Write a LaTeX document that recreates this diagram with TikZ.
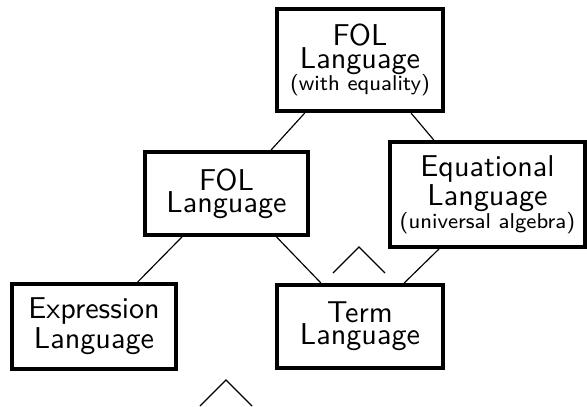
\documentclass[tikz,border=0pt]{standalone}
\usetikzlibrary{calc}

\tikzset{
  langbox/.style={draw, line width=1.4pt, inner sep=0pt, align=center,
    font=\sffamily\fontsize{10.4}{7.7}\selectfont},
  link/.style={line width=0.4pt}
}
\newcommand{\smalltext}[1]{\fontsize{7.4}{6.9}\selectfont #1}

\begin{document}
\begin{tikzpicture}[x=0.345pt,y=0.345pt,yscale=-1,xscale=1]
\useasboundingbox (0,0) rectangle (587,406);

% Boxes
\draw (360,60) node [langbox, minimum width=166*0.345pt, minimum height=102*0.345pt] (fole) {FOL\\Language\\\smalltext{(with equality)}};
\draw (226.5,193.5) node [langbox, minimum width=163*0.345pt, minimum height=83*0.345pt] (fol) {FOL\\Language};
\draw (487.5,194.5) node [langbox, minimum width=195*0.345pt, minimum height=105*0.345pt] (eqn) {Equational\\Language\\\smalltext{(universal algebra)}};
\draw (94,326.5) node [langbox, minimum width=164*0.345pt, minimum height=85*0.345pt] (expr) {Expression\\Language};
\draw (360,326.5) node [langbox, minimum width=166*0.345pt, minimum height=83*0.345pt] (term) {Term\\Language};

% Links
\draw [link] ($(fole.south west)!0.175!(fole.south east)$) -- ($(fol.north west)!0.767!(fol.north east)$);
\draw [link] ($(fole.south west)!0.80!(fole.south east)$) -- ($(eqn.north west)!0.23!(eqn.north east)$);
\draw [link] ($(fol.south west)!0.233!(fol.south east)$) -- ($(expr.north west)!0.76!(expr.north east)$);
\draw [link] ($(fol.south west)!0.80!(fol.south east)$) -- ($(term.north west)!0.27!(term.north east)$);
\draw [link] ($(eqn.south west)!0.256!(eqn.south east)$) -- ($(term.north west)!0.76!(term.north east)$);

% Carets
\draw [link] (333,273) -- (359,247) -- (385,273);
\draw [link] (200,406) -- (226,380) -- (252,406);

\end{tikzpicture}
\end{document}
